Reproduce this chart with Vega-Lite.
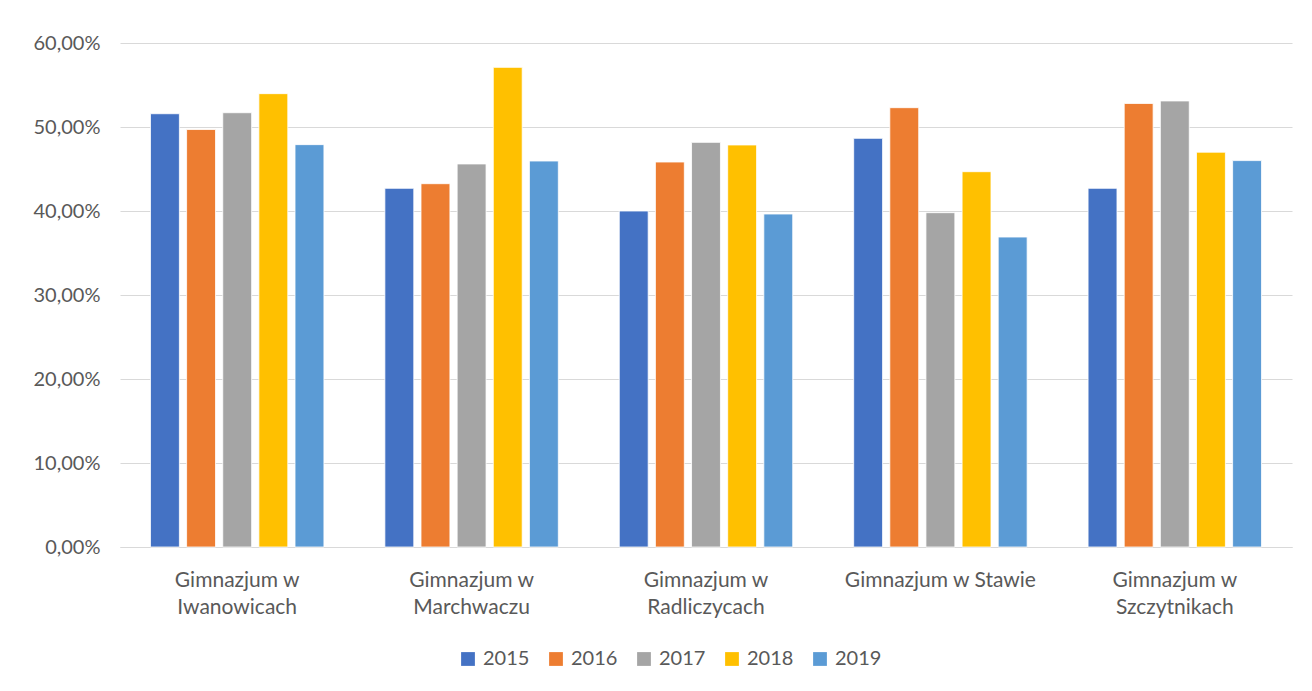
{
  "$schema": "https://vega.github.io/schema/vega-lite/v6.json",
  "width": 1172,
  "height": 504,
  "autosize": "none",
  "padding": {"left": 120, "top": 43, "right": 20, "bottom": 144},
  "background": "white",
  "data": {"values": [
    {"school": "Gimnazjum w Iwanowicach", "year": "2015", "v": 0.5158},
    {"school": "Gimnazjum w Iwanowicach", "year": "2016", "v": 0.4970},
    {"school": "Gimnazjum w Iwanowicach", "year": "2017", "v": 0.5170},
    {"school": "Gimnazjum w Iwanowicach", "year": "2018", "v": 0.5397},
    {"school": "Gimnazjum w Iwanowicach", "year": "2019", "v": 0.4790},
    {"school": "Gimnazjum w Marchwaczu", "year": "2015", "v": 0.4270},
    {"school": "Gimnazjum w Marchwaczu", "year": "2016", "v": 0.4325},
    {"school": "Gimnazjum w Marchwaczu", "year": "2017", "v": 0.4560},
    {"school": "Gimnazjum w Marchwaczu", "year": "2018", "v": 0.5710},
    {"school": "Gimnazjum w Marchwaczu", "year": "2019", "v": 0.4595},
    {"school": "Gimnazjum w Radliczycach", "year": "2015", "v": 0.4000},
    {"school": "Gimnazjum w Radliczycach", "year": "2016", "v": 0.4583},
    {"school": "Gimnazjum w Radliczycach", "year": "2017", "v": 0.4817},
    {"school": "Gimnazjum w Radliczycach", "year": "2018", "v": 0.4786},
    {"school": "Gimnazjum w Radliczycach", "year": "2019", "v": 0.3964},
    {"school": "Gimnazjum w Stawie", "year": "2015", "v": 0.4865},
    {"school": "Gimnazjum w Stawie", "year": "2016", "v": 0.5230},
    {"school": "Gimnazjum w Stawie", "year": "2017", "v": 0.3980},
    {"school": "Gimnazjum w Stawie", "year": "2018", "v": 0.4468},
    {"school": "Gimnazjum w Stawie", "year": "2019", "v": 0.3690},
    {"school": "Gimnazjum w Szczytnikach", "year": "2015", "v": 0.4270},
    {"school": "Gimnazjum w Szczytnikach", "year": "2016", "v": 0.5280},
    {"school": "Gimnazjum w Szczytnikach", "year": "2017", "v": 0.5310},
    {"school": "Gimnazjum w Szczytnikach", "year": "2018", "v": 0.4700},
    {"school": "Gimnazjum w Szczytnikach", "year": "2019", "v": 0.4600}
  ]},
  "mark": {"type": "bar", "stroke": "white", "strokeWidth": 0.8},
  "encoding": {
    "x": {
      "field": "school", "type": "nominal", "title": null,
      "scale": {"paddingInner": 0.26, "paddingOuter": 0.13},
      "axis": {
        "labelAngle": 0, "ticks": false, "domainColor": "#d9d9d9", "domainWidth": 1,
        "labelFont": "Lato", "labelFontSize": 21, "labelColor": "#595959", "labelLimit": 400,
        "labelPadding": 22, "labelLineHeight": 27, "labelBaseline": "top",
        "labelExpr": "datum.value == 'Gimnazjum w Stawie' ? datum.value : ['Gimnazjum w', slice(datum.value, 12)]"
      }
    },
    "xOffset": {"field": "year", "type": "nominal", "scale": {"paddingInner": 0.2}},
    "y": {
      "field": "v", "type": "quantitative", "title": null,
      "scale": {"domain": [0, 0.6], "nice": false},
      "axis": {
        "values": [0, 0.1, 0.2, 0.3, 0.4, 0.5, 0.6],
        "domain": false, "ticks": false, "gridColor": "#d9d9d9", "gridWidth": 1.2,
        "labelFont": "Lato", "labelFontSize": 20, "labelColor": "#595959", "labelPadding": 20,
        "labelExpr": "replace(format(datum.value, '.2%'), '.', ',')"
      }
    },
    "color": {
      "field": "year", "type": "nominal", "title": null,
      "scale": {"domain": ["2015", "2016", "2017", "2018", "2019"], "range": ["#4472C4", "#ED7D31", "#A5A5A5", "#FFC000", "#5B9BD5"]},
      "legend": {
        "orient": "none", "direction": "horizontal", "legendX": 338, "legendY": 606,
        "symbolType": "square", "symbolSize": 190, "symbolStrokeWidth": 0,
        "labelFont": "Lato", "labelFontSize": 20, "labelColor": "#595959",
        "columnPadding": 16, "labelOffset": 5
      }
    }
  },
  "config": {"view": {"stroke": null}}
}
